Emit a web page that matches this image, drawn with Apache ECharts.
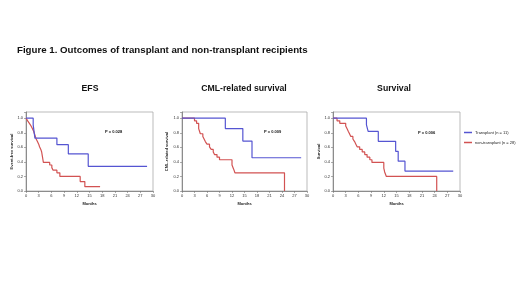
<!DOCTYPE html>
<html>
<head>
<meta charset="utf-8">
<script src="https://cdn.jsdelivr.net/npm/echarts@6/dist/echarts.min.js"></script>
<style>
  html, body { margin: 0; padding: 0; background: #fff; }
  #main { width: 520px; height: 292px; }
</style>
</head>
<body>
<div id="main"></div>
<script>
// Kaplan-Meier steps: [month, survival]
let efsTransplant = [[0, 1], [1.7, 0.909], [1.9, 0.818], [2.1, 0.727], [7.3, 0.636], [10, 0.509], [14.7, 0.339], [28.6, 0.339]];
let efsNonTransplant = [[0, 1], [0.4, 0.964], [0.8, 0.929], [1.2, 0.893], [1.5, 0.857], [1.8, 0.821], [2.0, 0.786], [2.2, 0.75],
    [2.4, 0.714], [2.7, 0.679], [3.0, 0.643], [3.2, 0.607], [3.5, 0.571], [3.7, 0.536], [3.8, 0.5], [3.9, 0.464],
    [4.0, 0.429], [4.1, 0.393], [5.6, 0.357], [6.1, 0.321], [6.4, 0.286], [7.3, 0.25], [8.0, 0.2], [12.8, 0.13],
    [13.9, 0.06], [17.5, 0.06]];
let cmlTransplant = [[0, 1], [10.4, 0.857], [14.6, 0.686], [16.8, 0.457], [28.6, 0.457]];
let cmlNonTransplant = [[0, 1], [3.0, 0.964], [3.5, 0.929], [4.0, 0.857], [4.4, 0.786], [5.0, 0.75], [5.3, 0.714],
    [5.6, 0.679], [6.0, 0.643], [6.6, 0.607], [7.0, 0.571], [7.5, 0.536], [7.8, 0.5], [8.4, 0.464], [9.0, 0.429],
    [12.0, 0.357], [12.4, 0.3], [12.7, 0.25], [24.6, 0]];
let osTransplant = [[0, 1], [7.9, 0.909], [8.3, 0.818], [10.7, 0.682], [14.8, 0.545], [15.4, 0.409], [17.0, 0.273], [28.4, 0.273]];
let osNonTransplant = [[0, 1], [0.95, 0.964], [1.6, 0.929], [3.0, 0.893], [3.3, 0.857], [3.6, 0.821], [3.9, 0.786],
    [4.2, 0.75], [4.7, 0.714], [5.1, 0.679], [5.4, 0.643], [5.7, 0.607], [6.3, 0.571], [6.9, 0.536], [7.5, 0.5],
    [8.05, 0.464], [8.7, 0.429], [9.2, 0.393], [12.0, 0.314], [12.2, 0.262], [12.6, 0.2], [24.5, 0]];

let panelTitles = ['EFS', 'CML-related survival', 'Survival'];
let yNames = ['Event-free survival', 'CML-related survival', 'Survival'];
let pValues = ['P = 0.028', 'P = 0.009', 'P = 0.006'];
let groupNames = ['Transplant (n = 11)', 'non-transplant (n = 28)'];

let font = 'Liberation Sans, Arial, sans-serif';
let blue = '#5555d2';
let red = '#d25252';

// plot boxes
let grids = [
    { left: 26, top: 112, width: 127, height: 79 },
    { left: 182, top: 112, width: 125, height: 79 },
    { left: 333, top: 112, width: 127, height: 79 }
];
let titleX = [90, 244, 394];
let yNameGap = [8, 13, 10];
let pPos = [[105, 130], [264, 130], [418, 131]];

let myChart = echarts.init(document.getElementById('main'));

let xAxes = [], yAxes = [], series = [], titles = [], texts = [];
titles.push({
    text: 'Figure 1. Outcomes of transplant and non-transplant recipients',
    left: 17, top: 45.5, padding: 0,
    textStyle: { fontFamily: font, fontSize: 9.7, fontWeight: 'bold', color: '#111' }
});
let pairs = [[efsTransplant, efsNonTransplant], [cmlTransplant, cmlNonTransplant], [osTransplant, osNonTransplant]];

grids.forEach(function (g, i) {
    g.show = true;
    g.borderColor = '#aaa';
    g.borderWidth = 0.8;
    g.backgroundColor = '#fff';
    titles.push({
        text: panelTitles[i],
        left: titleX[i], top: 84.5, textAlign: 'center', padding: 0,
        textStyle: { fontFamily: font, fontSize: 8.7, fontWeight: 'bold', color: '#111' }
    });
    xAxes.push({
        gridIndex: i, type: 'value', min: 0, max: 30, interval: 3,
        name: 'Months', nameLocation: 'middle', nameGap: 11,
        nameTextStyle: { fontFamily: font, fontSize: 4, fontWeight: 'bold', color: '#222' },
        axisLine: { lineStyle: { color: '#777', width: 0.8 } },
        axisTick: { length: 2, lineStyle: { color: '#777', width: 0.6 } },
        axisLabel: { fontFamily: font, fontSize: 4, color: '#333', margin: 3 },
        splitLine: { show: false }
    });
    yAxes.push({
        gridIndex: i, type: 'value', min: 0, max: 1.085, interval: 0.2,
        name: yNames[i], nameLocation: 'middle', nameGap: yNameGap[i],
        nameTextStyle: { fontFamily: font, fontSize: 4, fontWeight: 'bold', color: '#222' },
        axisLine: { show: true, lineStyle: { color: '#777', width: 0.8 } },
        axisTick: { show: true, length: 2, lineStyle: { color: '#777', width: 0.6 } },
        axisLabel: {
            fontFamily: font, fontSize: 4, color: '#333', margin: 3,
            formatter: function (v) { return v > 1.001 ? '' : v.toFixed(1); }
        },
        splitLine: { show: false }
    });
    [blue, red].forEach(function (c, k) {
        series.push({
            name: groupNames[k], type: 'line', step: 'end',
            xAxisIndex: i, yAxisIndex: i,
            data: pairs[i][k],
            showSymbol: false, symbol: 'none',
            lineStyle: { color: c, width: 1.2 },
            itemStyle: { color: c },
            z: k === 0 ? 3 : 2,
            animation: false
        });
    });
    texts.push({
        type: 'text', left: pPos[i][0], top: pPos[i][1],
        style: { text: pValues[i], font: 'bold 4px ' + font, fill: '#111' }
    });
});

let option = {
    backgroundColor: '#fff',
    animation: false,
    title: titles,
    grid: grids,
    xAxis: xAxes,
    yAxis: yAxes,
    legend: {
        data: groupNames,
        orient: 'vertical',
        left: 464, top: 130.5,
        itemWidth: 8, itemHeight: 1.5, itemGap: 6,
        icon: 'rect',
        textStyle: { fontFamily: font, fontSize: 4, color: '#222', padding: [0, 0, 0, -2] },
        padding: 0
    },
    graphic: texts,
    series: series
};
myChart.setOption(option);
</script>
</body>
</html>
